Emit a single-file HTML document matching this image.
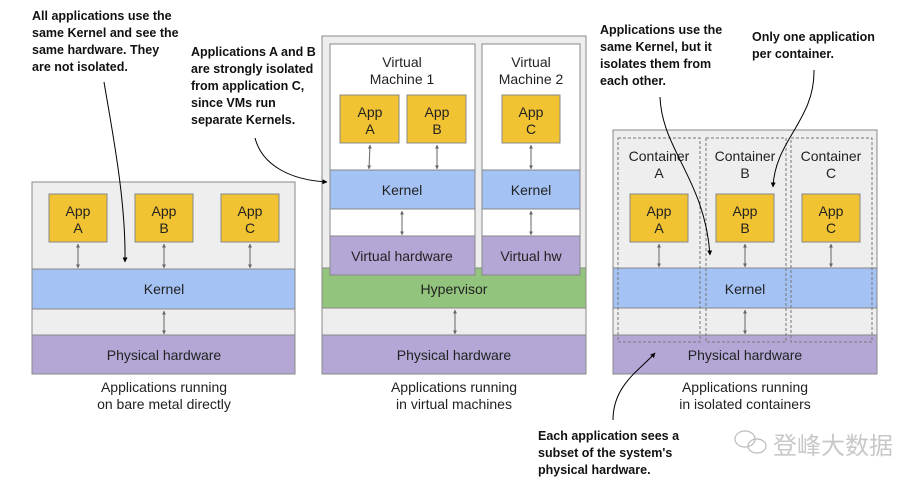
<!DOCTYPE html>
<html><head><meta charset="utf-8"><style>
html,body{margin:0;padding:0;background:#fff;}
svg{display:block;}
text{font-family:"Liberation Sans",Arial,sans-serif;}
.b{font-family:"Liberation Sans",sans-serif;font-weight:bold;font-size:12.5px;fill:#111;}
.l{font-size:14px;fill:#222;text-anchor:middle;}
</style></head><body>
<svg width="920" height="489" viewBox="0 0 920 489" xmlns="http://www.w3.org/2000/svg">
<defs>
<marker id="a" viewBox="0 0 10 10" refX="9" refY="5" markerWidth="5" markerHeight="5" orient="auto-start-reverse"><path d="M0,0L10,5L0,10z" fill="#000"/></marker>
<marker id="g" viewBox="0 0 10 10" refX="9" refY="5" markerWidth="4" markerHeight="4" orient="auto-start-reverse"><path d="M0,0L10,5L0,10z" fill="#666"/></marker>
</defs>
<g stroke="#888" stroke-width="1">
<!-- Panel 1 -->
<rect x="32" y="182" width="263" height="192" fill="#eeeeee"/>
<rect x="32" y="269" width="263" height="40" fill="#a4c2f4"/>
<rect x="32" y="335" width="263" height="39" fill="#b4a7d6"/>
<rect x="49" y="194" width="58" height="48" fill="#f1c232"/>
<rect x="135" y="194" width="58" height="48" fill="#f1c232"/>
<rect x="221" y="194" width="58" height="48" fill="#f1c232"/>
<!-- Panel 2 -->
<rect x="322" y="36" width="264" height="338" fill="#eeeeee"/>
<rect x="322" y="268" width="264" height="40" fill="#93c47d"/>
<rect x="322" y="335" width="264" height="39" fill="#b4a7d6"/>
<rect x="330" y="44" width="145" height="231" fill="#fff"/>
<rect x="482" y="44" width="98" height="231" fill="#fff"/>
<rect x="330" y="170" width="145" height="39" fill="#a4c2f4"/>
<rect x="482" y="170" width="98" height="39" fill="#a4c2f4"/>
<rect x="330" y="236" width="145" height="39" fill="#b4a7d6"/>
<rect x="482" y="236" width="98" height="39" fill="#b4a7d6"/>
<rect x="340" y="95" width="59" height="48" fill="#f1c232"/>
<rect x="407" y="95" width="59" height="48" fill="#f1c232"/>
<rect x="502" y="95" width="58" height="48" fill="#f1c232"/>
<!-- Panel 3 -->
<rect x="613" y="130" width="264" height="244" fill="#eeeeee"/>
<rect x="613" y="268" width="264" height="40" fill="#a4c2f4"/>
<rect x="613" y="335" width="264" height="39" fill="#b4a7d6"/>
<rect x="630" y="194" width="58" height="48" fill="#f1c232"/>
<rect x="716" y="194" width="58" height="48" fill="#f1c232"/>
<rect x="802" y="194" width="58" height="48" fill="#f1c232"/>
</g>
<g fill="none" stroke="#777" stroke-dasharray="3,2" stroke-width="1">
<rect x="618" y="138" width="82" height="204"/>
<rect x="706" y="138" width="80" height="204"/>
<rect x="791" y="138" width="81" height="204"/>
</g>
<!-- grey double arrows -->
<g stroke="#666" stroke-width="1" marker-start="url(#g)" marker-end="url(#g)">
<line x1="78" y1="244" x2="78" y2="268"/><line x1="164" y1="244" x2="164" y2="268"/><line x1="250" y1="244" x2="250" y2="268"/>
<line x1="164" y1="311" x2="164" y2="334"/>
<line x1="370" y1="145" x2="369" y2="169"/><line x1="437" y1="145" x2="437" y2="169"/><line x1="531" y1="145" x2="531" y2="169"/>
<line x1="402" y1="211" x2="402" y2="235"/><line x1="531" y1="211" x2="531" y2="235"/>
<line x1="455" y1="310" x2="455" y2="334"/>
<line x1="659" y1="244" x2="659" y2="267"/><line x1="745" y1="244" x2="745" y2="267"/><line x1="831" y1="244" x2="831" y2="267"/>
<line x1="745" y1="310" x2="745" y2="334"/>
</g>
<!-- labels -->
<g class="l">
<text x="78" y="216">App</text><text x="78" y="233">A</text>
<text x="164" y="216">App</text><text x="164" y="233">B</text>
<text x="250" y="216">App</text><text x="250" y="233">C</text>
<text x="164" y="294">Kernel</text>
<text x="164" y="360">Physical hardware</text>
<text x="164" y="392">Applications running</text><text x="164" y="409">on bare metal directly</text>
<text x="402" y="67">Virtual</text><text x="402" y="84">Machine 1</text>
<text x="531" y="67">Virtual</text><text x="531" y="84">Machine 2</text>
<text x="370" y="117">App</text><text x="370" y="134">A</text>
<text x="437" y="117">App</text><text x="437" y="134">B</text>
<text x="531" y="117">App</text><text x="531" y="134">C</text>
<text x="402" y="195">Kernel</text><text x="531" y="195">Kernel</text>
<text x="402" y="261">Virtual hardware</text><text x="531" y="261">Virtual hw</text>
<text x="454" y="294">Hypervisor</text>
<text x="454" y="360">Physical hardware</text>
<text x="454" y="392">Applications running</text><text x="454" y="409">in virtual machines</text>
<text x="659" y="161">Container</text><text x="659" y="178">A</text>
<text x="745" y="161">Container</text><text x="745" y="178">B</text>
<text x="831" y="161">Container</text><text x="831" y="178">C</text>
<text x="659" y="216">App</text><text x="659" y="233">A</text>
<text x="745" y="216">App</text><text x="745" y="233">B</text>
<text x="831" y="216">App</text><text x="831" y="233">C</text>
<text x="745" y="294">Kernel</text>
<text x="745" y="360">Physical hardware</text>
<text x="745" y="392">Applications running</text><text x="745" y="409">in isolated containers</text>
</g>
<!-- annotations -->
<g class="b">
<text x="32" y="20">All applications use the</text>
<text x="32" y="37">same Kernel and see the</text>
<text x="32" y="54">same hardware. They</text>
<text x="32" y="71">are not isolated.</text>
<text x="191" y="56">Applications A and B</text>
<text x="191" y="73">are strongly isolated</text>
<text x="191" y="90">from application C,</text>
<text x="191" y="107">since VMs run</text>
<text x="191" y="124">separate Kernels.</text>
<text x="600" y="34">Applications use the</text>
<text x="600" y="51">same Kernel, but it</text>
<text x="600" y="68">isolates them from</text>
<text x="600" y="85">each other.</text>
<text x="752" y="41">Only one application</text>
<text x="752" y="58">per container.</text>
<text x="538" y="440">Each application sees a</text>
<text x="538" y="457">subset of the system's</text>
<text x="538" y="474">physical hardware.</text>
</g>
<g fill="none" stroke="#000" stroke-width="1" marker-end="url(#a)">
<path d="M104,82 C112,130 126,200 125,262"/>
<path d="M255,138 C262,165 290,180 327,182"/>
<path d="M660,97 C662,150 705,180 710,255"/>
<path d="M814,70 C815,120 775,140 773,187"/>
<path d="M613,420 C613,385 640,370 655,353"/>
</g>
<!-- watermark -->
<g fill="none" stroke="#bbb" stroke-width="1.2">
<ellipse cx="745" cy="439" rx="10" ry="8"/>
<ellipse cx="757" cy="446" rx="9" ry="7"/>
</g>
<text x="773" y="454" style="font-family:'Liberation Sans','Noto Sans CJK SC',sans-serif;font-size:24px;fill:#c8c8c8;">登峰大数据</text>
</svg>
</body></html>
